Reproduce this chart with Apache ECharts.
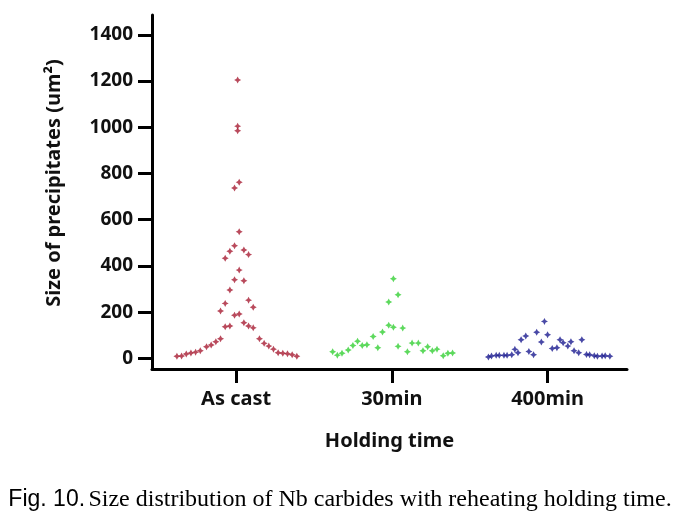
<!DOCTYPE html>
<html>
<head>
<meta charset="utf-8">
<script src="https://cdn.jsdelivr.net/npm/echarts@6/dist/echarts.min.js"></script>
<style>html,body{margin:0;padding:0;background:#fff}#c{width:680px;height:523px}</style>
</head>
<body>
<div id="c"></div>
<script>
var categories = ['As cast', '30min', '400min'];
var yTicks = [0, 200, 400, 600, 800, 1000, 1200, 1400];

// Size of precipitates (um^2), with each point's horizontal jitter (category units)
var asCastValues = [1205, 1005, 985, 762, 737, 548, 487, 464, 469, 449, 433, 382, 340, 336, 296, 252, 238, 221, 205, 187, 192, 137, 140, 154, 140, 132, 85, 72, 58, 50, 33, 27, 23, 19, 10, 9, 85, 65, 53, 40, 24, 22, 20, 16, 9];
var asCastJitter = [0.01, 0.01, 0.01, 0.02, -0.01, 0.02, -0.01, -0.04, 0.05, 0.08, -0.07, 0.02, -0.01, 0.05, -0.04, 0.08, -0.07, 0.11, -0.10, -0.01, 0.02, -0.07, -0.04, 0.05, 0.08, 0.11, -0.10, -0.13, -0.16, -0.19, -0.23, -0.26, -0.29, -0.32, -0.35, -0.38, 0.15, 0.18, 0.21, 0.24, 0.27, 0.30, 0.33, 0.36, 0.39];

var min30Values = [345, 275, 244, 143, 135, 114, 131, 95, 74, 56, 56, 59, 46, 36, 22, 14, 29, 52, 29, 66, 66, 33, 50, 33, 40, 11, 22, 23];
var min30Jitter = [0.01, 0.04, -0.02, -0.02, 0.01, -0.06, 0.07, -0.12, -0.22, -0.25, -0.19, -0.16, -0.09, -0.28, -0.32, -0.35, -0.38, 0.04, 0.10, 0.13, 0.17, 0.20, 0.23, 0.26, 0.29, 0.33, 0.36, 0.39];

var min400Values = [160, 113, 97, 81, 102, 71, 81, 68, 53, 72, 81, 43, 46, 33, 24, 39, 24, 30, 16, 6, 10, 13, 13, 13, 13, 16, 17, 16, 11, 9, 10, 11, 9];
var min400Jitter = [-0.02, -0.07, -0.14, -0.17, 0.00, -0.04, 0.08, 0.10, 0.13, 0.15, 0.22, 0.03, 0.06, 0.17, 0.20, -0.21, -0.19, -0.12, -0.09, -0.38, -0.36, -0.33, -0.31, -0.28, -0.26, -0.23, 0.25, 0.27, 0.30, 0.32, 0.35, 0.37, 0.40];

function pts(idx, vals, jit) {
  return vals.map(function (v, i) { return [idx + jit[i], v]; });
}

var star = 'path://M0,-10 L3.5,-3.5 L10,0 L3.5,3.5 L0,10 L-3.5,3.5 L-10,0 L-3.5,-3.5 Z';
var font = '"Noto Sans", "Open Sans", sans-serif';

var chart = echarts.init(document.getElementById('c'), null, {renderer: 'canvas'});
chart.setOption({
  animation: false,
  backgroundColor: '#fff',
  grid: {left: 152, right: 53, top: 15, bottom: 154, containLabel: false},
  xAxis: {
    type: 'value', min: -0.54, max: 2.51,
    name: 'Holding time', nameLocation: 'middle', nameGap: 62,
    nameTextStyle: {color: '#111', fontSize: 20, fontWeight: 'bold', fontFamily: font},
    axisLine: {show: true, onZero: false, lineStyle: {color: '#000', width: 3}},
    axisTick: {show: true, customValues: [0, 1, 2], length: 14, lineStyle: {color: '#000', width: 3}},
    axisLabel: {show: true, customValues: [0, 1, 2], margin: 20, color: '#111', fontSize: 20, fontWeight: 'bold', fontFamily: font,
      formatter: function (v) { return categories[Math.round(v)]; }},
    splitLine: {show: false}
  },
  yAxis: {
    type: 'value', min: -46, max: 1486,
    name: 'Size of precipitates (um²)', nameLocation: 'middle', nameGap: 88, nameRotate: 90,
    nameTextStyle: {color: '#111', fontSize: 20, fontWeight: 'bold', fontFamily: font, padding: [0, 0, 0, 18]},
    axisLine: {show: true, onZero: false, lineStyle: {color: '#000', width: 3}},
    axisTick: {show: true, customValues: yTicks, length: 14, lineStyle: {color: '#000', width: 3}},
    axisLabel: {show: true, customValues: yTicks, margin: 19, color: '#111', fontSize: 19, fontWeight: 'bold', fontFamily: font,
      formatter: function (v) { return String(v); }},
    splitLine: {show: false}
  },
  series: [
    {type: 'scatter', name: categories[0], data: pts(0, asCastValues, asCastJitter), symbol: star, symbolSize: 7, itemStyle: {color: '#a81d33'}},
    {type: 'scatter', name: categories[1], data: pts(1, min30Values, min30Jitter), symbol: star, symbolSize: 7, itemStyle: {color: '#35d035'}},
    {type: 'scatter', name: categories[2], data: pts(2, min400Values, min400Jitter), symbol: star, symbolSize: 7, itemStyle: {color: '#1c1c90'}}
  ],
  graphic: [{
    type: 'text', left: 'center', top: 488,
    style: {
      text: '{a|Fig. 10.} {b|Size distribution of Nb carbides with reheating holding time.}',
      rich: {
        a: {fontFamily: '"Liberation Sans", Arial, sans-serif', fontSize: 23, fill: '#000'},
        b: {fontFamily: '"Liberation Serif", "Times New Roman", serif', fontSize: 24, fill: '#000'}
      }
    }
  }]
});
</script>
</body>
</html>
